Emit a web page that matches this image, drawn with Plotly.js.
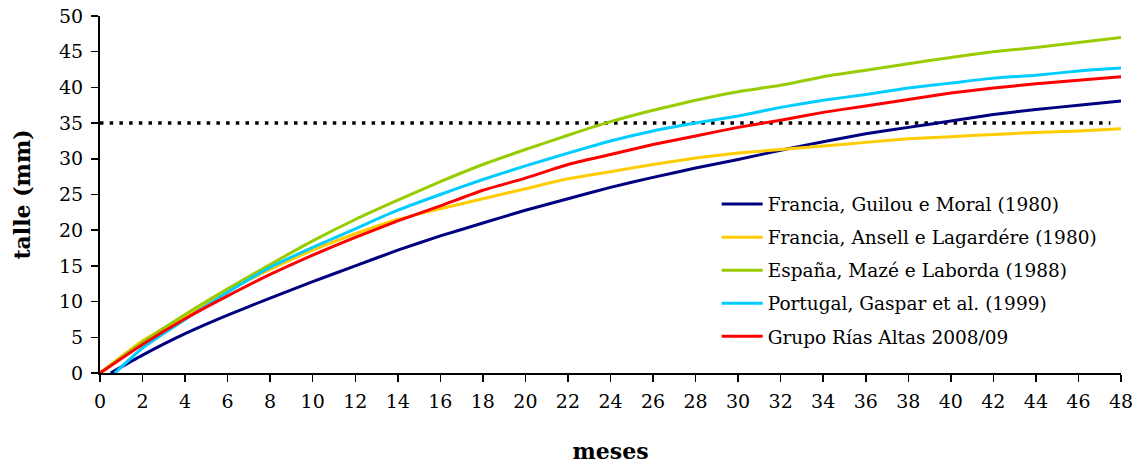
<!DOCTYPE html>
<html>
<head>
<meta charset="utf-8">
<script src="https://cdn.plot.ly/plotly-3.0.1.min.js"></script>
<style>html,body{margin:0;padding:0;background:#fff;}#chart{width:1140px;height:466px;}</style>
</head>
<body>
<div id="chart"></div>
<script>
// months (x) and talle values (mm)
const seriesNames = [
  "Francia, Guilou e Moral (1980)",
  "Francia, Ansell e Lagardére (1980)",
  "España, Mazé e Laborda (1988)",
  "Portugal, Gaspar et al. (1999)",
  "Grupo Rías Altas 2008/09"
];
const seriesColors = ["#000080", "#FFCC00", "#99CC00", "#00CCFF", "#FF0000"];

const mesesGuilou = [0.5, 2, 4, 6, 8, 10, 12, 14, 16, 18, 20, 22, 24, 26, 28, 30, 32, 34, 36, 38, 40, 42, 44, 46, 48];
const talleGuilou = [0, 2.5, 5.5, 8.1, 10.5, 12.8, 15.0, 17.2, 19.2, 21.0, 22.8, 24.4, 26.0, 27.4, 28.7, 29.9, 31.2, 32.4, 33.5, 34.4, 35.3, 36.2, 36.9, 37.5, 38.1];

const mesesAnsell = [0, 2, 4, 6, 8, 10, 12, 14, 16, 18, 20, 22, 24, 26, 28, 30, 32, 34, 36, 38, 40, 42, 44, 46, 48];
const talleAnsell = [0, 4.5, 8.0, 11.5, 14.5, 17.2, 19.5, 21.5, 23.0, 24.4, 25.8, 27.2, 28.2, 29.2, 30.1, 30.8, 31.3, 31.8, 32.3, 32.8, 33.1, 33.4, 33.7, 33.9, 34.2];

const mesesMaze = [0, 2, 4, 6, 8, 10, 12, 14, 16, 18, 20, 22, 24, 26, 28, 30, 32, 34, 36, 38, 40, 42, 44, 46, 48];
const talleMaze = [0, 4.3, 8.2, 11.8, 15.2, 18.5, 21.5, 24.2, 26.8, 29.2, 31.3, 33.3, 35.2, 36.8, 38.2, 39.4, 40.3, 41.5, 42.4, 43.3, 44.2, 45.0, 45.6, 46.3, 47.0];

const mesesGaspar = [0.7, 2, 4, 6, 8, 10, 12, 14, 16, 18, 20, 22, 24, 26, 28, 30, 32, 34, 36, 38, 40, 42, 44, 46, 48];
const talleGaspar = [0, 3.5, 7.5, 11.3, 14.8, 17.6, 20.2, 22.8, 25.0, 27.1, 29.0, 30.8, 32.5, 33.9, 35.0, 36.0, 37.2, 38.2, 39.0, 39.9, 40.6, 41.3, 41.7, 42.3, 42.7];

const mesesRias = [0, 2, 4, 6, 8, 10, 12, 14, 16, 18, 20, 22, 24, 26, 28, 30, 32, 34, 36, 38, 40, 42, 44, 46, 48];
const talleRias = [0, 4.0, 7.6, 10.8, 13.8, 16.5, 19.0, 21.3, 23.4, 25.6, 27.3, 29.2, 30.6, 32.0, 33.2, 34.4, 35.4, 36.5, 37.4, 38.3, 39.2, 39.9, 40.5, 41.0, 41.5];

// reference (dotted) level
const refX = [0, 47.5];
const refY = [35, 35];

const xs = [mesesGuilou, mesesAnsell, mesesMaze, mesesGaspar, mesesRias];
const ys = [talleGuilou, talleAnsell, talleMaze, talleGaspar, talleRias];

const traces = [{
  x: refX, y: refY, mode: "lines", showlegend: false,
  line: {color: "#000000", width: 3.5, dash: "3.5px,6.2px"}, hoverinfo: "skip"
}];
for (let i = 0; i < seriesNames.length; i++) {
  traces.push({
    x: xs[i], y: ys[i], name: seriesNames[i], mode: "lines",
    legendgroup: "g" + i,
    line: {color: seriesColors[i], width: 3, shape: "spline", smoothing: 0.5}
  });
}

const serif = "DejaVu Serif, Liberation Serif, serif";
const layout = {
  width: 1140, height: 466,
  margin: {l: 100, r: 19, t: 16, b: 93},
  paper_bgcolor: "#ffffff", plot_bgcolor: "#ffffff",
  font: {family: serif, size: 19, color: "#000"},
  showlegend: true,
  legend: {
    x: 0.604, y: 0.525, xanchor: "left", yanchor: "top",
    font: {family: serif, size: 18.5, color: "#000"},
    tracegroupgap: 6, traceorder: "grouped", itemwidth: 41,
    bgcolor: "rgba(0,0,0,0)"
  },
  xaxis: {
    range: [0, 48], dtick: 2, tick0: 0,
    showline: true, linecolor: "#000", linewidth: 2,
    ticks: "outside", ticklen: 7, tickwidth: 1.5, tickcolor: "#000",
    ticklabelstandoff: 3,
    showgrid: false, zeroline: false,
    tickfont: {family: serif, size: 19},
    title: {text: "<b>meses</b>", font: {family: serif, size: 22}, standoff: 33}
  },
  yaxis: {
    range: [0, 50], dtick: 5, tick0: 0,
    showline: true, linecolor: "#000", linewidth: 2,
    ticks: "outside", ticklen: 7, tickwidth: 1.5, tickcolor: "#000",
    ticklabelstandoff: 4,
    showgrid: false, zeroline: false,
    tickfont: {family: serif, size: 19},
    title: {text: "<b>talle (mm)</b>", font: {family: serif, size: 22}, standoff: 22}
  },
  hovermode: false
};
Plotly.newPlot("chart", traces, layout, {displayModeBar: false, staticPlot: true});
</script>
</body>
</html>
